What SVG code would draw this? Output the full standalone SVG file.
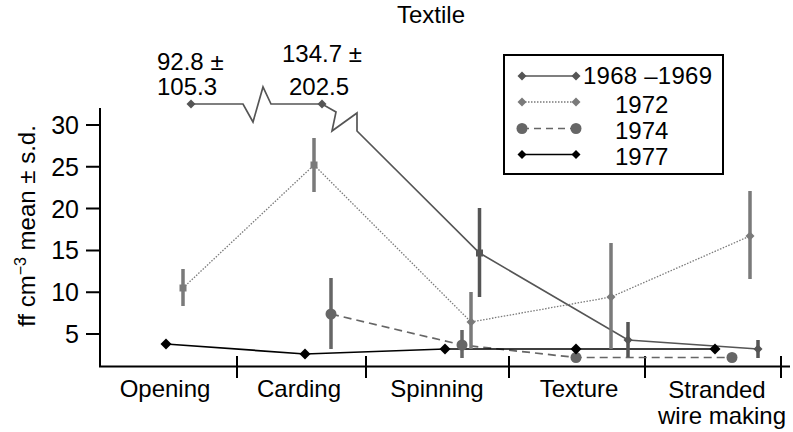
<svg xmlns="http://www.w3.org/2000/svg" width="793" height="432" viewBox="0 0 793 432">
<style>
text{font-family:"Liberation Sans",Arial,sans-serif;font-size:24px;fill:#000}
.tk{font-size:25px}
.ax{stroke:#000;stroke-width:2;fill:none}
.s68{stroke:#555;stroke-width:1.7;fill:none}
.s72{stroke:#7a7a7a;stroke-width:1.3;stroke-dasharray:1.5 1.5;fill:none}
.s74{stroke:#666;stroke-width:1.7;stroke-dasharray:8 5;fill:none}
.s77{stroke:#000;stroke-width:1.7;fill:none}
.e68{stroke:#555;stroke-width:3.5}
.e72{stroke:#7a7a7a;stroke-width:3.5}
.e74{stroke:#666;stroke-width:3.5}
.m68{fill:#555}
.m72{fill:#7a7a7a}
.m74{fill:#666}
.m77{fill:#000}
.mid{text-anchor:middle}
.end{text-anchor:end}
</style>
<defs>
<path id="dm" d="M0,-4.5 L4.5,0 L0,4.5 L-4.5,0Z"/>
<path id="dmL" d="M0,-5.5 L5.5,0 L0,5.5 L-5.5,0Z"/>
<rect id="sq" x="-3.5" y="-3.5" width="7" height="7"/>
<circle id="ci" r="5.5"/>
</defs>

<text class="mid" x="431" y="23">Textile</text>

<g id="axes">
<path class="ax" d="M100,108 V366.5 H790"/>
<path class="ax" d="M86,125 H100 M86,166.8 H100 M86,208.6 H100 M86,250.4 H100 M86,292.2 H100 M86,334 H100"/>
<path class="ax" d="M237,356 V378 M366,356 V378 M509,356 V378 M645,356 V378 M781,356 V378"/>
<text class="end tk" x="79" y="134">30</text>
<text class="end tk" x="79" y="175.8">25</text>
<text class="end tk" x="79" y="217.6">20</text>
<text class="end tk" x="79" y="259.4">15</text>
<text class="end tk" x="79" y="301.2">10</text>
<text class="end tk" x="79" y="343">5</text>
<text transform="translate(35,226) rotate(-90)" class="mid">ff cm<tspan font-size="16" dy="-9">−3</tspan><tspan dy="9"> mean ± s.d.</tspan></text>
<text class="mid" x="165" y="397">Opening</text>
<text class="mid" x="299" y="397">Carding</text>
<text class="mid" x="437" y="397">Spinning</text>
<text class="mid" x="579" y="397">Texture</text>
<text class="mid" x="717" y="398">Stranded</text>
<text class="mid" x="722" y="424">wire making</text>
</g>

<g id="connectors">
<path class="s68" d="M191,104 L243,104 L253,122 L263,87 L271,104 L322,104 L336,112 L332,131 L357,113 L357,131 L479.5,253 L628,340 L758,349"/>
<path class="s72" d="M183,288 L314,165 L471,322 L611,297 L750,236"/>
<path class="s74" d="M331,314 L462,345 L576,357.5 L732,357.5"/>
<path class="s77" d="M166,344 L305,354 L445,349 L576,349 L715,349"/>
</g>

<g id="series-1968">
<path class="e68" d="M479.5,208 V297 M628,322 V357 M758,340 V358"/>
<use href="#dm" class="m68" x="191" y="104"/>
<use href="#dm" class="m68" x="322" y="104"/>
<use href="#sq" class="m68" x="479.5" y="253"/>
<use href="#dm" class="m68" x="628" y="340"/>
<use href="#dm" class="m68" x="758" y="349"/>
</g>

<g id="series-1972">
<path class="e72" d="M183,269 V306 M314,138 V192 M471,292 V349 M611,243 V349 M750,191 V279"/>
<use href="#sq" class="m72" x="183" y="288"/>
<use href="#sq" class="m72" x="314" y="165"/>
<use href="#dm" class="m72" x="471" y="322"/>
<use href="#dm" class="m72" x="611" y="297"/>
<use href="#dm" class="m72" x="750" y="236"/>
</g>

<g id="series-1974">
<path class="e74" d="M331,278 V349 M462,330 V358"/>
<use href="#ci" class="m74" x="331" y="314"/>
<use href="#ci" class="m74" x="462" y="345"/>
<use href="#ci" class="m74" x="576" y="357.5"/>
<use href="#ci" class="m74" x="732" y="357.5"/>
</g>

<g id="series-1977">
<use href="#dmL" class="m77" x="166" y="344"/>
<use href="#dmL" class="m77" x="305" y="354"/>
<use href="#dmL" class="m77" x="445" y="349"/>
<use href="#dmL" class="m77" x="576" y="349"/>
<use href="#dmL" class="m77" x="715" y="349"/>
</g>

<g id="annotations">
<text x="157" y="70">92.8 ±</text>
<text x="157" y="95">105.3</text>
<text x="282" y="62">134.7 ±</text>
<text x="289" y="95">202.5</text>
</g>

<g id="legend">
<rect x="504" y="55" width="219" height="119" fill="#fff" stroke="#000" stroke-width="2"/>
<path class="s68" d="M522,76 H576"/>
<use href="#dm" class="m68" x="522" y="76"/>
<use href="#dm" class="m68" x="576" y="76"/>
<path class="s72" d="M522,102 H576"/>
<use href="#dm" class="m72" x="522" y="102"/>
<use href="#dm" class="m72" x="576" y="102"/>
<path class="s74" d="M522,128.5 H576" style="stroke-dasharray:7 5"/>
<use href="#ci" class="m74" x="522" y="128.5"/>
<use href="#ci" class="m74" x="576" y="128.5"/>
<path class="s77" d="M522,154.5 H576"/>
<use href="#dm" class="m77" x="522" y="154.5"/>
<use href="#dm" class="m77" x="576" y="154.5"/>
<text x="583" y="84" textLength="129">1968 –1969</text>
<text x="615" y="113">1972</text>
<text x="615" y="139">1974</text>
<text x="615" y="165">1977</text>
</g>
</svg>
